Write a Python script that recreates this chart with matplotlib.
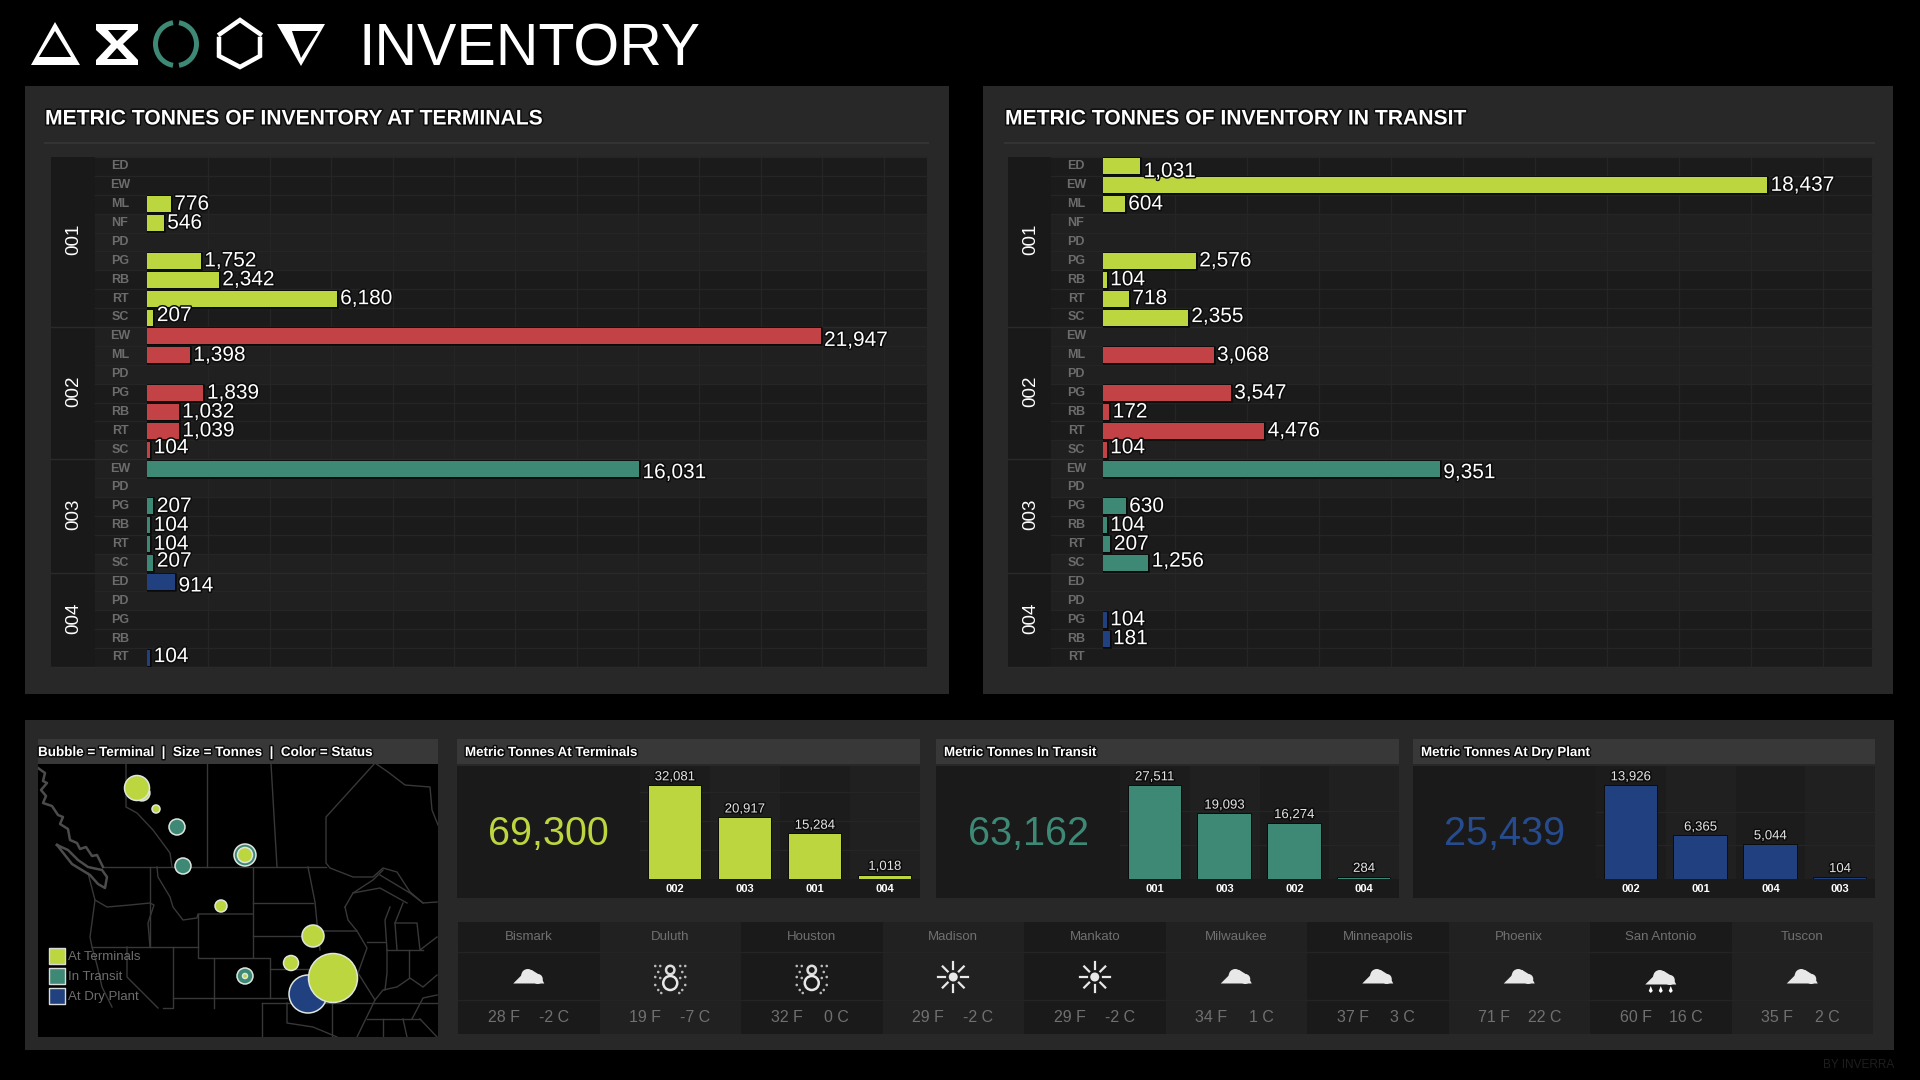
import matplotlib
matplotlib.use('Agg')
import matplotlib.pyplot as plt
import matplotlib.patheffects as pe
from matplotlib.patches import Rectangle, Polygon, Circle, Arc
from matplotlib.transforms import ScaledTranslation

# Rows of the two big charts
groups = ['001'] * 9 + ['002'] * 7 + ['003'] * 6 + ['004'] * 5
codes = ['ED', 'EW', 'ML', 'NF', 'PD', 'PG', 'RB', 'RT', 'SC',
         'EW', 'ML', 'PD', 'PG', 'RB', 'RT', 'SC',
         'EW', 'PD', 'PG', 'RB', 'RT', 'SC',
         'ED', 'PD', 'PG', 'RB', 'RT']
at_terminals = [0, 0, 776, 546, 0, 1752, 2342, 6180, 207,
                21947, 1398, 0, 1839, 1032, 1039, 104,
                16031, 0, 207, 104, 104, 207,
                914, 0, 0, 0, 104]
in_transit = [1031, 18437, 604, 0, 0, 2576, 104, 718, 2355,
              0, 3068, 0, 3547, 172, 4476, 104,
              9351, 0, 630, 104, 207, 1256,
              0, 0, 104, 181, 0]
group_colors = {'001': '#bcd63f', '002': '#c24245', '003': '#3e8976', '004': '#20407f'}

# Small charts at the bottom
kpi_titles = ['Metric Tonnes At Terminals', 'Metric Tonnes In Transit', 'Metric Tonnes At Dry Plant']
kpi_totals = ['69,300', '63,162', '25,439']
kpi_labels = [['002', '003', '001', '004'], ['001', '003', '002', '004'], ['002', '001', '004', '003']]
kpi_values = [[32081, 20917, 15284, 1018], [27511, 19093, 16274, 284], [13926, 6365, 5044, 104]]
kpi_colors = ['#bcd63f', '#3e8976', '#20407f']
kpi_number_colors = ['#bcd63f', '#3e8976', '#264c8f']

# Weather
cities = ['Bismark', 'Duluth', 'Houston', 'Madison', 'Mankato', 'Milwaukee', 'Minneapolis', 'Phoenix', 'San Antonio', 'Tuscon']
temp_f = [28, 19, 32, 29, 29, 34, 37, 71, 60, 35]
temp_c = [-2, -7, 0, -2, -2, 1, 3, 22, 16, 2]
weather = ['cloud', 'snow', 'snow', 'sun', 'sun', 'cloud', 'cloud', 'cloud', 'rain', 'cloud']

# Map bubbles
bubble_x = [142, 137, 156, 177, 183, 245, 245, 221, 245, 245, 313, 291, 308, 333]
bubble_y = [793, 788, 809, 827, 866, 855, 855, 906, 976, 976, 936, 963, 994, 978]
bubble_tonnes = [2500, 6250, 640, 2560, 2560, 4840, 2250, 1440, 2560, 250, 4840, 2250, 14440, 24000]
bubble_status = ['At Terminals', 'At Terminals', 'At Terminals', 'In Transit', 'In Transit', 'In Transit',
                 'At Terminals', 'At Terminals', 'In Transit', 'At Terminals', 'At Terminals', 'At Terminals',
                 'At Dry Plant', 'At Terminals']
status_names = ['At Terminals', 'In Transit', 'At Dry Plant']
status_colors = {'At Terminals': '#bcd63f', 'In Transit': '#3e8976', 'At Dry Plant': '#20407f'}

# Borders on the map
map_borders = [
    [(103, 867), (326, 867)],
    [(126, 764), (126, 807), (137, 813), (153, 830), (170, 853), (172, 867)],
    [(207, 764), (207, 867)],
    [(271, 764), (277, 867)],
    [(375, 763), (326, 817), (326, 863), (330, 868), (353, 877), (373, 877), (383, 868), (397, 872), (410, 892), (423, 903), (437, 902)],
    [(375, 763), (388, 772), (405, 785), (430, 787), (432, 810), (438, 825)],
    [(150, 867), (150, 947)],
    [(157, 867), (158, 877), (170, 897), (173, 907), (183, 920), (197, 918), (198, 914), (253, 914)],
    [(253, 867), (253, 957)],
    [(198, 914), (198, 958), (270, 958), (270, 998)],
    [(95, 900), (107, 907), (130, 905), (150, 903), (154, 905), (148, 923), (150, 947)],
    [(92, 947), (198, 947)],
    [(88, 873), (95, 900), (90, 937), (92, 947), (97, 965), (102, 987), (112, 1007)],
    [(173, 947), (173, 1008), (163, 1008)],
    [(127, 947), (127, 977), (158, 1008)],
    [(214, 958), (214, 1008)],
    [(173, 998), (287, 998)],
    [(253, 903), (313, 903)],
    [(253, 936), (303, 936)],
    [(308, 867), (315, 902), (317, 923), (320, 950)],
    [(270, 969), (308, 969)],
    [(320, 931), (357, 931), (367, 948), (358, 973), (375, 1000), (357, 1037)],
    [(262, 1003), (375, 1003), (437, 1003)],
    [(262, 1003), (262, 1037)],
    [(287, 1003), (287, 1023), (313, 1027), (337, 1037)],
    [(332, 1003), (332, 1037)],
    [(367, 1019), (420, 1019)],
    [(383, 1019), (383, 1037)],
    [(403, 1019), (407, 1037)],
    [(420, 1019), (437, 1037)],
    [(412, 1019), (423, 998), (437, 995)],
    [(387, 950), (387, 973), (385, 990)],
    [(367, 942), (385, 942)],
    [(409, 950), (409, 978)],
    [(387, 950), (423, 950)],
    [(375, 1000), (383, 990), (397, 987), (410, 978), (423, 987), (437, 975)],
    [(345, 907), (353, 893), (373, 880), (383, 870)],
    [(345, 907), (348, 920), (357, 931)],
    [(353, 893), (380, 888), (407, 903)],
    [(390, 907), (385, 920), (387, 950)],
    [(403, 903), (395, 923), (397, 950)],
    [(395, 923), (417, 923), (420, 950), (437, 937)],
    [(380, 875), (410, 893), (423, 903)],
]
bc_coast = [
    [(38, 768), (45, 773), (43, 781), (47, 783), (41, 790), (46, 796), (43, 803), (52, 806), (58, 815), (63, 817),
     (60, 824), (68, 829), (70, 840), (77, 843), (80, 849), (86, 847), (92, 856), (97, 855), (103, 867)],
    [(57, 845), (68, 850), (78, 860), (88, 867), (102, 870), (107, 877), (105, 888), (98, 884), (90, 875), (72, 864), (57, 845)],
]

value_nudge_terminals = {8: -2, 9: 4, 15: -2, 16: 4, 21: -2, 22: 4, 26: -1}
value_nudge_transit = {0: 5, 8: -1, 15: -2, 16: 4, 21: -2}

PX = 0.72
plt.rcParams['font.family'] = 'Liberation Sans'
fig = plt.figure(figsize=(19.2, 10.8), dpi=100, facecolor='black')

bg = fig.add_axes([0, 0, 1, 1])
bg.set_xlim(0, 1920)
bg.set_ylim(1080, 0)
bg.axis('off')


def px_axes(x0, y0, x1, y1):
    return fig.add_axes([x0 / 1920, 1 - y1 / 1080, (x1 - x0) / 1920, (y1 - y0) / 1080])


def rect(x0, y0, x1, y1, color):
    bg.add_patch(Rectangle((x0, y0), x1 - x0, y1 - y0, facecolor=color, edgecolor='none'))


shadow = [pe.withStroke(linewidth=2.2, foreground='#0c0c0c')]

# Logo
bg.add_patch(Polygon([(55, 22), (80, 65), (31, 65)], facecolor='white'))
bg.add_patch(Polygon([(55, 31), (71, 57), (39, 57)], facecolor='black'))
bg.add_patch(Polygon([(96, 24), (138, 24), (138, 30), (123, 44), (138, 60), (138, 65), (96, 65), (96, 60), (111, 44), (96, 30)], facecolor='white'))
bg.add_patch(Polygon([(108, 30), (128, 30), (117, 41)], facecolor='black'))
bg.add_patch(Polygon([(117, 48), (127, 59), (107, 59)], facecolor='black'))
for t1, t2 in [(-82, 82), (98, 262)]:
    bg.add_patch(Arc((176, 44), 41, 43, theta1=t1, theta2=t2, edgecolor='#3e8976', linewidth=5 * PX))
bg.plot([220, 240, 260], [34, 20, 34], color='white', lw=4.5 * PX, solid_joinstyle='miter')
bg.plot([219, 219, 240, 260, 260], [39, 56, 67, 56, 39], color='white', lw=4.5 * PX, solid_joinstyle='miter')
bg.add_patch(Polygon([(277, 24), (325, 24), (301, 66)], facecolor='white'))
bg.add_patch(Polygon([(292, 31), (318, 31), (301, 58)], facecolor='black'))
bg.text(359, 50, 'INVENTORY', color='white', fontsize=42.5, va='center', ha='left')

# Panels
rect(25, 86, 949, 694, '#282828')
rect(983, 86, 1893, 694, '#282828')
rect(25, 720, 1894, 1050, '#282828')
bg.text(1894, 1065, 'BY INVERRA', color='#1e1e1e', fontsize=8.5, ha='right', va='center')


def big_chart(title, title_x, x_group, x_code, x_bar, x_end, values, xmax, nudges, sep_end):
    bg.text(title_x, 119, title, color='white', fontsize=15.2, weight='bold', va='center', path_effects=shadow)
    bg.plot([title_x, sep_end], [143, 143], color='#343434', lw=1.5)
    rect(x_group, 157, x_code, 667, '#191919')
    ax = px_axes(x_bar, 157, x_end, 667)
    ax.set_facecolor('#1b1b1b')
    n = len(codes)
    ax.set_xlim(0, xmax)
    ax.set_ylim(n - 0.5, -0.5)
    left = (x_code - x_bar) / (x_end - x_bar)
    for start in range(3, n, 6):
        ax.axhspan(start - 0.5, start + 2.5, xmin=0, xmax=1, color='#202020', lw=0, zorder=0)
    for start in range(0, n, 6):
        ax.axhspan(start - 0.5, start + 2.5, xmin=left, xmax=0, color='#1b1b1b', lw=0, zorder=0, clip_on=False)
    for start in range(3, n, 6):
        ax.axhspan(start - 0.5, start + 2.5, xmin=left, xmax=0, color='#202020', lw=0, zorder=0, clip_on=False)
    for i in range(n + 1):
        ax.plot([left, 1], [i - 0.5, i - 0.5], transform=ax.get_yaxis_transform(), color='#252525', lw=1, zorder=1, clip_on=False)
    for v in range(2000, int(xmax), 2000):
        ax.axvline(v, color='#252525', lw=1, zorder=1)
    bars = ax.barh(range(n), values, height=0.85, color=[group_colors[g] for g in groups], zorder=2)
    for b, v in zip(bars, values):
        # empty rows keep their label but get no bar
        b.set_visible(v > 0)
        b.set_path_effects([pe.withStroke(linewidth=1.8, foreground='#0a0a0a')])
    for i, v in enumerate(values):
        if v > 0:
            ax.annotate(f'{v:,}', (v, i), xytext=(3.5 * PX, -nudges.get(i, 0) * PX), textcoords='offset points',
                        color='white', fontsize=15, va='center', zorder=3, path_effects=shadow)
    ax.set_yticks(range(n), codes)
    ax.tick_params(axis='y', length=0, pad=(x_bar - (x_code + x_bar) / 2 + 1) * PX, labelcolor='#6c6c6c', labelsize=9)
    up = ScaledTranslation(0, 1.6 / 100, fig.dpi_scale_trans)
    for lab in ax.get_yticklabels():
        lab.set_ha('center')
        lab.set_fontweight('bold')
        lab.set_transform(lab.get_transform() + up)
    ax.set_xticks([])
    for s in ax.spines.values():
        s.set_visible(False)
    # group names and the lines between groups
    for g, shift in zip(['001', '002', '003', '004'], [0.15, 0.1, 0.06, 0.06]):
        idx = [i for i, name in enumerate(groups) if name == g]
        ax.text(((x_group + x_code) / 2 + 1 - x_bar) / (x_end - x_bar), (idx[0] + idx[-1]) / 2 - shift, g, rotation=90, color='white',
                fontsize=13.5, ha='center', va='center', transform=ax.get_yaxis_transform(), clip_on=False)
        ax.plot([(x_group - x_bar) / (x_end - x_bar), 1], [idx[-1] + 0.5] * 2, transform=ax.get_yaxis_transform(),
                color='#2a2a2a', lw=1, zorder=1, clip_on=False)


big_chart('METRIC TONNES OF INVENTORY AT TERMINALS', 45, 51, 95, 147, 927, at_terminals, 25415, value_nudge_terminals, 928)
big_chart('METRIC TONNES OF INVENTORY IN TRANSIT', 1005, 1008, 1051, 1103, 1872, in_transit, 21350, value_nudge_transit, 1874)

# Map
rect(38, 739, 438, 764, '#383838')
bg.text(38, 753, 'Bubble = Terminal  |  Size = Tonnes  |  Color = Status', color='white', fontsize=9.7, weight='bold', va='center', path_effects=shadow)
mp = px_axes(38, 764, 438, 1037)
mp.set_facecolor('black')
mp.set_xlim(38, 438)
mp.set_ylim(1037, 764)
mp.set_xticks([])
mp.set_yticks([])
for s in mp.spines.values():
    s.set_visible(False)
for line in map_borders:
    mp.plot([p[0] for p in line], [p[1] for p in line], color='#383838', lw=1.0, zorder=1)
for line in bc_coast:
    mp.plot([p[0] for p in line], [p[1] for p in line], color='#4c4c4c', lw=1.8, zorder=1)
mp.scatter(bubble_x, bubble_y, s=[t * 0.0518 for t in bubble_tonnes], c=[status_colors[s] for s in bubble_status],
           edgecolors='#dfe6df', linewidths=1.1, zorder=3)
for i, name in enumerate(status_names):
    yy = [956, 976, 996][i]
    mp.scatter([56.5], [yy], marker='s', s=135, c=status_colors[name], edgecolors='#d8dcd8', linewidths=1, zorder=4)
    mp.text(68, yy + 1, name, color='#6e6e6e', fontsize=9.5, va='center', zorder=4)

# KPI panels
kpi_x = [(457, 640, 920), (936, 1120, 1399), (1413, 1596, 1875)]
for k, (x0, x1, x2) in enumerate(kpi_x):
    rect(x0, 739, x2, 764, '#383838')
    bg.text(x0 + 8, 753, kpi_titles[k], color='white', fontsize=9.6, weight='bold', va='center', path_effects=shadow)
    rect(x0, 766, x2, 898, '#1a1a1a')
    bg.text((x0 + x1) / 2, 834.5, kpi_totals[k], color=kpi_number_colors[k], fontsize=28.5, ha='center', va='center')
    ax = px_axes(x1, 766, x2, 878.5)
    ax.set_facecolor('#1c1c1c')
    vals = kpi_values[k]
    ax.set_xlim(-0.5, 3.5)
    ax.set_ylim(0, vals[0] * 112.5 / 92.5)
    ax.axvspan(0.5, 1.5, color='#202020', lw=0, zorder=0)
    ax.axvspan(2.5, 3.5, color='#202020', lw=0, zorder=0)
    step = 5000 if vals[0] < 20000 else 10000
    for v in range(step, vals[0], step):
        ax.axhline(v, color='#252525', lw=1, zorder=1)
    bars = ax.bar(range(4), vals, width=0.75, color=kpi_colors[k], zorder=2)
    for b in bars:
        b.set_path_effects([pe.withStroke(linewidth=1.2, foreground='#0a0a0a')])
    for i, v in enumerate(vals):
        ax.annotate(f'{v:,}', (i, v), xytext=(0, 8.7 * PX), textcoords='offset points', color='#e4e4e4',
                    fontsize=9.5, ha='center', va='center', zorder=3, path_effects=shadow)
    ax.set_xticks(range(4), kpi_labels[k])
    ax.tick_params(axis='x', length=0, pad=4.2, labelcolor='white', labelsize=8)
    for lab in ax.get_xticklabels():
        lab.set_fontweight('bold')
    ax.set_yticks([])
    for s in ax.spines.values():
        s.set_visible(False)


# Weather icons
def cloud(cx, cy):
    c = '#e8e8e8'
    bg.add_patch(Polygon([(cx - 15.5, cy + 7.5), (cx - 8, cy + 0), (cx - 3, cy - 6), (cx + 3, cy - 6),
                          (cx + 11, cy - 1), (cx + 15.5, cy + 7.5)], facecolor=c))
    bg.add_patch(Circle((cx - 1, cy - 0.5), 6.5, facecolor=c))
    bg.add_patch(Circle((cx + 9, cy + 3), 5, facecolor=c))


def sun(cx, cy):
    bg.add_patch(Circle((cx, cy), 4.5, facecolor='#e8e8e8'))
    for dx, dy in [(1, 0), (-1, 0), (0, 1), (0, -1), (0.7, 0.7), (-0.7, 0.7), (0.7, -0.7), (-0.7, -0.7)]:
        bg.plot([cx + 8 * dx, cx + 15 * dx], [cy + 8 * dy, cy + 15 * dy], color='#e8e8e8', lw=1.6)


def snow(cx, cy):
    bg.add_patch(Circle((cx, cy - 8), 4.2, facecolor='#1a1a1a', edgecolor='#dddddd', lw=1.8))
    bg.add_patch(Circle((cx, cy + 5), 7, facecolor='none', edgecolor='#e8e8e8', lw=1.8))
    for dx, dy in [(-15, -12), (-10, -12), (-12, -6), (-15, -1), (-10, 0), (-15, 7), (-12, 12), (-9, 15),
                   (15, -12), (10, -12), (12, -6), (15, -1), (10, 0), (15, 7), (12, 12), (9, 15)]:
        bg.add_patch(Circle((cx + dx, cy + dy), 1.3, facecolor='#bbbbbb'))


cell_w = 141.5
for i, city in enumerate(cities):
    x0 = 458 + i * cell_w
    cx = x0 + cell_w / 2
    rect(x0, 922, x0 + cell_w, 1034, '#1a1a1a' if i % 2 == 0 else '#212121')
    bg.plot([x0, x0 + cell_w], [952, 952], color='#242424', lw=1)
    bg.plot([x0, x0 + cell_w], [1000, 1000], color='#242424', lw=1)
    bg.text(cx, 937, city, color='#707070', fontsize=9.5, ha='center', va='center')
    bg.text(cx - 25, 1017, f'{temp_f[i]} F', color='#707070', fontsize=11.5, ha='center', va='center')
    bg.text(cx + 25, 1017, f'{temp_c[i]} C', color='#707070', fontsize=11.5, ha='center', va='center')
    if weather[i] == 'cloud':
        cloud(cx, 976)
    elif weather[i] == 'sun':
        sun(cx, 977)
    elif weather[i] == 'snow':
        snow(cx, 978)
    else:
        cloud(cx, 977)
        for dx in [-10, 0, 10]:
            bg.add_patch(Polygon([(cx + dx - 2, 991), (cx + dx, 986), (cx + dx + 2, 991), (cx + dx, 993)], facecolor='white'))

fig.savefig('out.png', dpi=100, facecolor='black')
